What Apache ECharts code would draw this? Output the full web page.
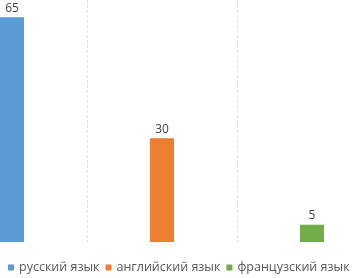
<!DOCTYPE html>
<html><head><meta charset="utf-8">
<script src="https://cdn.jsdelivr.net/npm/echarts@6/dist/echarts.min.js"></script>
<style>html,body{margin:0;padding:0;background:#fff;overflow:hidden;width:353px;height:278px;position:relative}#c{position:absolute;left:-63px;top:0;width:450px;height:278px}</style>
</head><body><div id="c"></div>
<script>
const categories = ['русский язык', 'английский язык', 'французский язык'];
const values = [65, 30, 5];
const colors = ['#5B9BD5', '#ED7D31', '#70AD47'];

const chart = echarts.init(document.getElementById('c'), null, {renderer: 'canvas'});
const series = categories.map((name, i) => ({
  name: name,
  type: 'bar',
  stack: 'all',
  barWidth: 24,
  itemStyle: {color: colors[i]},
  label: {show: true, position: 'top', color: '#404040', fontSize: 12, fontFamily: 'Open Sans', distance: 3},
  data: values.map((v, j) => j === i ? v : '-')
}));
chart.setOption({
  animation: false,
  grid: {left: 0, width: 450, top: 0, height: 242, containLabel: false},
  xAxis: {
    type: 'category', data: categories,
    axisLine: {show: false}, axisTick: {show: false}, axisLabel: {show: false},
    splitLine: {show: true, lineStyle: {color: '#e0e0e0', type: [3, 2], width: 1}}
  },
  yAxis: {
    type: 'value', min: 0, max: 70,
    axisLine: {show: false}, axisTick: {show: false}, axisLabel: {show: false},
    splitLine: {show: false}
  },
  legend: {
    data: categories, left: 66, top: 256, itemWidth: 6, itemHeight: 6, itemGap: 6,
    icon: 'rect',
    textStyle: {color: '#595959', fontSize: 12.5, fontFamily: 'Open Sans', padding: [0, 0, 0, 0]}
  },
  series: series
});
</script></body></html>
